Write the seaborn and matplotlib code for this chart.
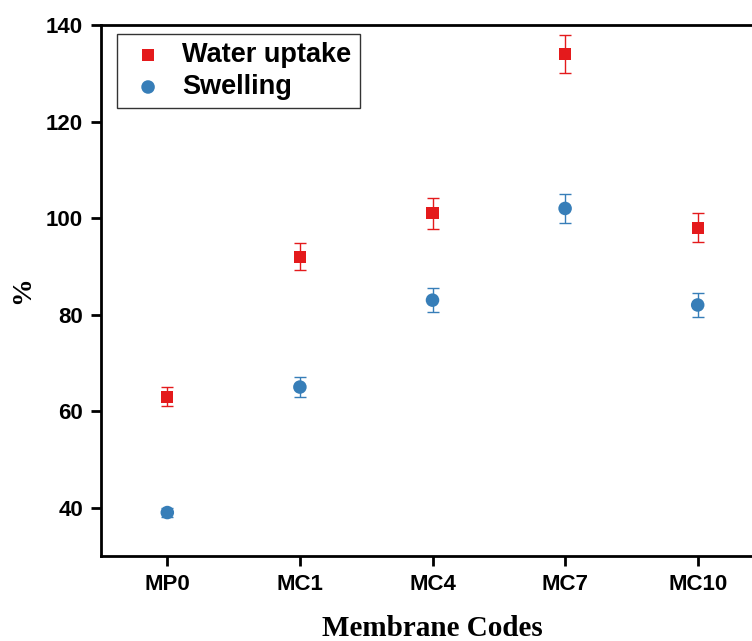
import numpy as np
import pandas as pd
import matplotlib
matplotlib.use("Agg")
import matplotlib.pyplot as plt
import seaborn as sns

categories = ["MP0", "MC1", "MC4", "MC7", "MC10"]
water_uptake = [63, 92, 101, 134, 98]
water_err = [2, 2.8, 3.2, 4, 3]
swelling = [39, 65, 83, 102, 82]
swelling_err = [1, 2, 2.5, 3, 2.5]
series_names = ["Water uptake", "Swelling"]
yticks = [40, 60, 80, 100, 120, 140]

red = "#e41a1c"
blue = "#377eb8"

water_df = pd.DataFrame({"code": categories, "value": water_uptake, "err": water_err})
swell_df = pd.DataFrame({"code": categories, "value": swelling, "err": swelling_err})

sns.set_style("ticks")
plt.rcParams["font.family"] = ["Liberation Sans", "DejaVu Sans"]
for k in ["text.color", "axes.labelcolor", "xtick.color", "ytick.color", "axes.edgecolor"]:
    plt.rcParams[k] = "black"

fig = plt.figure(figsize=(7.52, 6.41), dpi=100)
ax = fig.add_axes([101 / 752, 1 - 556 / 641, 663 / 752, 531 / 641])

for d, col in [(water_df, red), (swell_df, blue)]:
    ax.errorbar(d["code"], d["value"], yerr=d["err"], fmt="none",
                ecolor=col, elinewidth=1.0, capsize=4.5, capthick=1.0, zorder=2)

sns.scatterplot(data=water_df, x="code", y="value", color=red, marker="s",
                s=75, edgecolor="none", linewidth=0, ax=ax, zorder=3,
                label=series_names[0])
sns.scatterplot(data=swell_df, x="code", y="value", color=blue, marker="o",
                s=95, edgecolor="none", linewidth=0, ax=ax, zorder=3,
                label=series_names[1])

ax.set_xlim(-0.5, 4.5)
ax.set_ylim(30, 140)
ax.set_yticks(yticks)

for side in ["left", "bottom", "top", "right"]:
    ax.spines[side].set_linewidth(2)
    ax.spines[side].set_color("black")
ax.tick_params(axis="both", which="major", direction="out", length=7, width=2,
               labelsize=16, pad=6)
for lab in ax.get_xticklabels() + ax.get_yticklabels():
    lab.set_fontweight("bold")

ax.set_xlabel("Membrane Codes", family="Liberation Serif", fontweight="bold",
              fontsize=21, labelpad=14)
ax.set_ylabel("%", family="Liberation Serif", fontweight="bold",
              fontsize=20, labelpad=8)

handles, labels = ax.get_legend_handles_labels()
leg = ax.legend(handles, labels, loc="upper left", bbox_to_anchor=(0.024, 0.983),
                frameon=True, fancybox=False, edgecolor="#333333", framealpha=1,
                prop={"family": "Liberation Sans", "weight": "bold", "size": 19.5},
                handletextpad=0.42, borderpad=0.3, labelspacing=0.22,
                markerscale=1.0, handlelength=1.7, borderaxespad=0)
leg.get_frame().set_linewidth(1.0)

fig.savefig("out.png", dpi=100)
